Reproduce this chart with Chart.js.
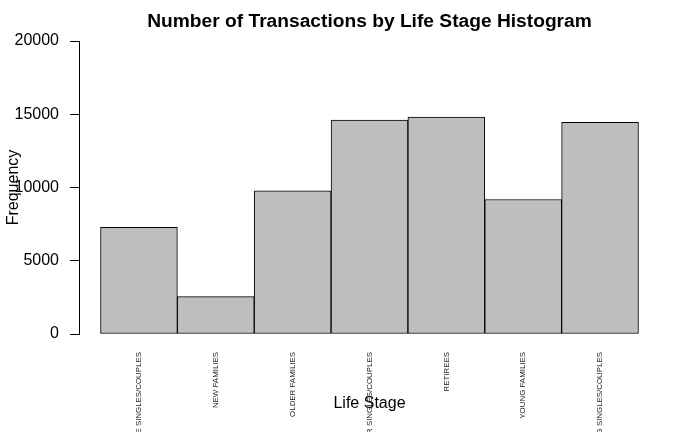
<!DOCTYPE html>
<html>
<head>
<meta charset="utf-8">
<script src="https://cdn.jsdelivr.net/npm/chart.js@4"></script>
<style>
  html, body { margin: 0; padding: 0; background: #fff; }
  canvas { display: block; }
</style>
</head>
<body>
<canvas id="c" width="700" height="432"></canvas>
<script>
const categories = ["MIDAGE SINGLES/COUPLES", "NEW FAMILIES", "OLDER FAMILIES", "OLDER SINGLES/COUPLES", "RETIREES", "YOUNG FAMILIES", "YOUNG SINGLES/COUPLES"];
const frequencies = [7275, 2549, 9780, 14609, 14805, 9178, 14441];
const yTicks = [0, 5000, 10000, 15000, 20000];
const chartTitle = "Number of Transactions by Life Stage Histogram";
const xTitle = "Life Stage";
const yTitle = "Frequency";

const FONT = "'Liberation Sans', Arial, Helvetica, sans-serif";

const barData = categories.map((c, i) => ({ x: i + 0.5, y: frequencies[i] }));

const titlePlugin = {
  id: 'rTitle',
  afterDraw(chart) {
    const { ctx, chartArea } = chart;
    ctx.save();
    ctx.font = "bold 19.2px " + FONT;
    ctx.fillStyle = '#000';
    ctx.textAlign = 'center';
    ctx.textBaseline = 'middle';
    ctx.fillText(chartTitle, (chartArea.left + chartArea.right) / 2, 22);
    ctx.restore();
  }
};

new Chart(document.getElementById('c'), {
  type: 'bar',
  data: {
    datasets: [{
      data: barData,
      backgroundColor: '#BEBEBE',
      borderColor: '#000000',
      borderWidth: 1,
      borderSkipped: false,
      barPercentage: 1,
      categoryPercentage: 1
    }]
  },
  plugins: [titlePlugin],
  options: {
    responsive: false,
    animation: false,
    devicePixelRatio: 1,
    layout: { padding: { top: 41, right: 40, bottom: 0, left: 0 } },
    plugins: {
      legend: { display: false },
      tooltip: { enabled: false },
      title: { display: false }
    },
    scales: {
      x: {
        type: 'linear',
        offset: false,
        min: -0.28,
        max: 7.28,
        grid: { display: false, drawTicks: false, offset: false },
        border: { display: false },
        afterBuildTicks(scale) {
          scale.ticks = categories.map((c, i) => ({ value: i + 0.5 }));
        },
        afterFit(scale) { scale.height = 98; },
        ticks: {
          autoSkip: false,
          minRotation: 90,
          maxRotation: 90,
          padding: 18,
          color: '#222',
          font: { family: FONT, size: 7.9 },
          callback: (v, i) => categories[i]
        },
        title: {
          display: true,
          text: xTitle,
          color: '#000',
          font: { family: FONT, size: 16 },
          padding: { top: 0, bottom: 18.6 }
        }
      },
      y: {
        min: 0,
        max: 20000,
        afterBuildTicks(scale) {
          scale.ticks = yTicks.map(v => ({ value: v }));
        },
        afterFit(scale) { scale.width = 79; },
        grid: { drawOnChartArea: false, drawTicks: true, tickLength: 9, color: '#000', lineWidth: 1 },
        border: { display: true, color: '#000', width: 1 },
        ticks: {
          padding: 11,
          color: '#000',
          font: { family: FONT, size: 16 },
          callback: (v) => String(v)
        },
        title: {
          display: true,
          text: yTitle,
          color: '#000',
          font: { family: FONT, size: 16 },
          padding: { top: 4.4, bottom: 0 }
        }
      }
    }
  }
});
</script>
</body>
</html>
